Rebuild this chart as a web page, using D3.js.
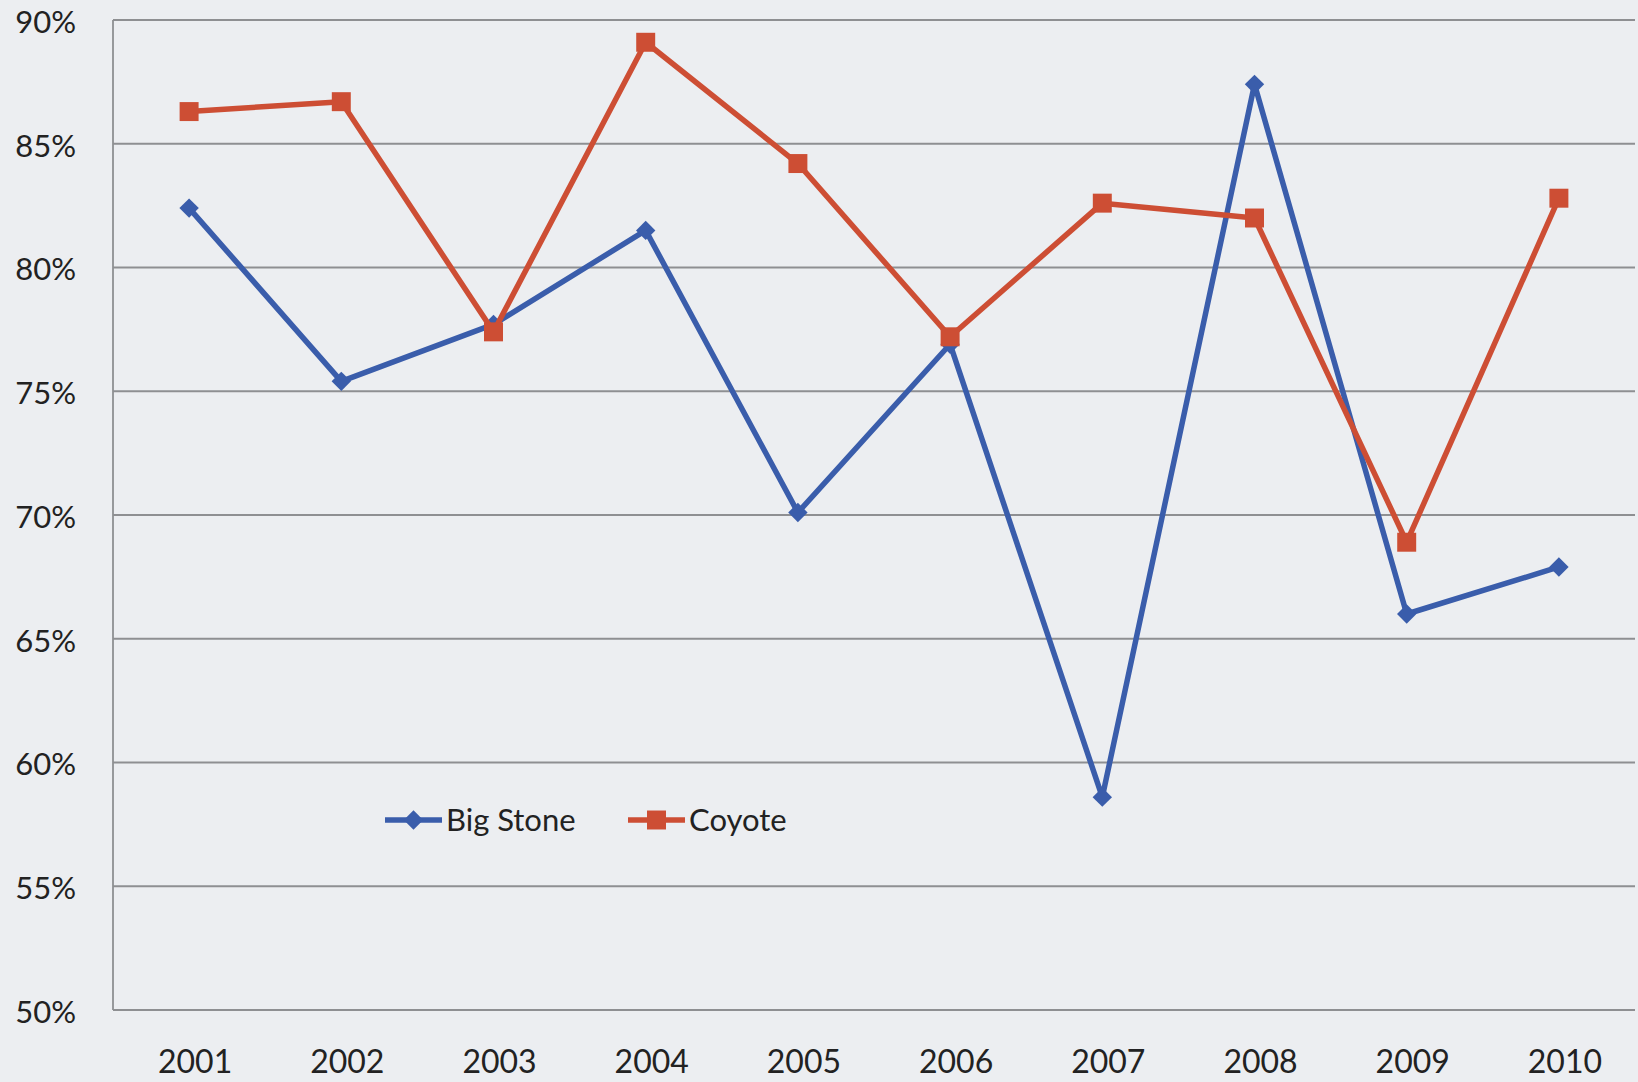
<!DOCTYPE html>
<html>
<head>
<meta charset="utf-8">
<script src="https://cdn.jsdelivr.net/npm/d3@7"></script>
<style>
    html, body { margin: 0; padding: 0; background: #eceef1; }
    svg { display: block; }
    .tick text { font-family: Lato, "Open Sans", sans-serif; fill: #222; }
</style>
</head>
<body>
<script>
var years = ["2001", "2002", "2003", "2004", "2005", "2006", "2007", "2008", "2009", "2010"];
var bigStone = [82.4, 75.4, 77.7, 81.5, 70.1, 76.9, 58.6, 87.4, 66.0, 67.9];
var coyote = [86.3, 86.7, 77.4, 89.1, 84.2, 77.2, 82.6, 82.0, 68.9, 82.8];
var yTicks = [50, 55, 60, 65, 70, 75, 80, 85, 90];
var seriesNames = ["Big Stone", "Coyote"];

var _width = 1638, _height = 1082,
    _margins = {top: 20, left: 113, right: 3, bottom: 72},
    _blue = "#3a5dab",
    _red = "#cd4e34",
    _grid = "#8e8f92";

var svg = d3.select("body").append("svg")
    .attr("width", _width)
    .attr("height", _height);

var x = d3.scaleBand()
    .domain(years)
    .range([_margins.left, _width - _margins.right]);

var y = d3.scaleLinear()
    .domain([50, 90])
    .range([_height - _margins.bottom, _margins.top]);

// gridlines
svg.append("g")
    .selectAll("line")
    .data(yTicks)
    .enter().append("line")
    .attr("x1", _margins.left)
    .attr("x2", _width - _margins.right)
    .attr("y1", function (d) { return y(d); })
    .attr("y2", function (d) { return y(d); })
    .attr("stroke", _grid)
    .attr("stroke-width", 1.8);

// left axis line
svg.append("line")
    .attr("x1", _margins.left).attr("x2", _margins.left)
    .attr("y1", y(90)).attr("y2", y(50))
    .attr("stroke", _grid)
    .attr("stroke-width", 1.8);

var yAxis = svg.append("g")
    .attr("transform", "translate(" + _margins.left + ",0)")
    .call(d3.axisLeft(y).tickValues(yTicks)
        .tickFormat(function (d) { return d + "%"; })
        .tickSize(0).tickPadding(37));
yAxis.select(".domain").remove();
yAxis.selectAll("text").attr("font-size", 31).attr("dy", "0.4em");

var xAxis = svg.append("g")
    .attr("transform", "translate(6," + y(50) + ")")
    .call(d3.axisBottom(x).tickSize(0).tickPadding(40));
xAxis.select(".domain").remove();
xAxis.selectAll("text").attr("font-size", 32);

function cx(i) { return x(years[i]) + x.bandwidth() / 2; }

var line = d3.line()
    .x(function (d, i) { return cx(i); })
    .y(function (d) { return y(d); });

var diamond = d3.symbol().type(d3.symbolDiamond2).size(240);
var square = d3.symbol().type(d3.symbolSquare).size(360);

function drawSeries(values, color, sym) {
    svg.append("path")
        .datum(values)
        .attr("fill", "none")
        .attr("stroke", color)
        .attr("stroke-width", 5.5)
        .attr("stroke-linejoin", "round")
        .attr("d", line);

    svg.append("g")
        .selectAll("path")
        .data(values)
        .enter().append("path")
        .attr("d", sym)
        .attr("fill", color)
        .attr("transform", function (d, i) {
            return "translate(" + cx(i) + "," + y(d) + ")";
        });
}

drawSeries(bigStone, _blue, diamond);
drawSeries(coyote, _red, square);

// legend
var legend = [
    {name: seriesNames[0], color: _blue, sym: diamond, x: 385},
    {name: seriesNames[1], color: _red, sym: square, x: 628}
];
var lg = svg.append("g").attr("transform", "translate(0,820)");
legend.forEach(function (l) {
    lg.append("line")
        .attr("x1", l.x).attr("x2", l.x + 57)
        .attr("y1", 0).attr("y2", 0)
        .attr("stroke", l.color)
        .attr("stroke-width", 5.5);
    lg.append("path")
        .attr("d", l.sym)
        .attr("fill", l.color)
        .attr("transform", "translate(" + (l.x + 28.5) + ",0)");
    lg.append("text")
        .attr("x", l.x + 61)
        .attr("y", 0)
        .attr("dy", "0.36em")
        .attr("font-family", "Lato, 'Open Sans', sans-serif")
        .attr("font-size", 31)
        .attr("fill", "#222")
        .text(l.name);
});
</script>
</body>
</html>
